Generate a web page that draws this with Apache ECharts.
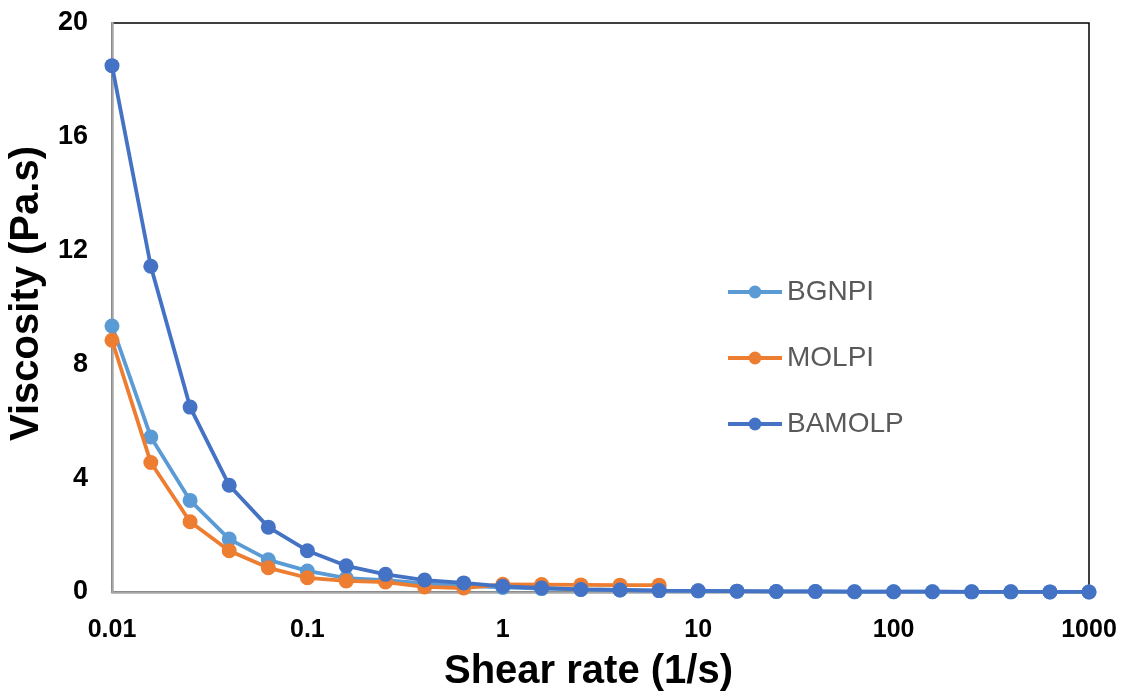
<!DOCTYPE html>
<html>
<head>
<meta charset="utf-8">
<script src="https://cdn.jsdelivr.net/npm/echarts@6/dist/echarts.min.js"></script>
<style>html,body{margin:0;padding:0;background:#fff;}#c{width:1132px;height:697px;}</style>
</head>
<body>
<div id="c"></div>
<script>
const shearRate = [0.01, 0.0158, 0.0251, 0.0398, 0.0631, 0.1, 0.158, 0.251, 0.398, 0.631, 1, 1.58, 2.51, 3.98, 6.31, 10, 15.8, 25.1, 39.8, 63.1, 100, 158, 251, 398, 631, 1000];
const seriesNames = ['BGNPI', 'MOLPI', 'BAMOLP'];
const bgnpi = [9.35, 5.45, 3.22, 1.86, 1.13, 0.74, 0.49, 0.42, 0.3, 0.22, 0.16, 0.12, 0.09, 0.07, 0.05, 0.04, 0.03, 0.02, 0.02, 0.01, 0.01, 0.01, 0.005, 0.005, 0.003, 0.002];
const molpi = [8.85, 4.55, 2.47, 1.45, 0.85, 0.5, 0.39, 0.35, 0.18, 0.14, 0.27, 0.26, 0.25, 0.24, 0.24];
const bamolp = [18.5, 11.45, 6.5, 3.75, 2.28, 1.45, 0.92, 0.62, 0.42, 0.32, 0.2, 0.14, 0.09, 0.07, 0.05, 0.04, 0.03, 0.02, 0.02, 0.01, 0.01, 0.01, 0.005, 0.005, 0.003, 0.002];
const yTicks = [0, 4, 8, 12, 16, 20];
const colors = ['#5B9BD5', '#ED7D31', '#4472C4'];

function pairs(vals) { return vals.map((v, i) => [shearRate[i], v]); }
const allVals = [bgnpi, molpi, bamolp];
const FONT = 'Liberation Sans, Arial, sans-serif';

const chart = echarts.init(document.getElementById('c'));
chart.setOption({
  animation: false,
  backgroundColor: '#fff',
  grid: { left: 112, right: 43, top: 23, bottom: 105, containLabel: false, outerBoundsMode: 'none',
    show: true, borderColor: '#000', borderWidth: 1.5, backgroundColor: 'transparent' },
  legend: {
    orient: 'vertical', left: 726, top: 278, padding: 0, itemGap: 38, itemWidth: 54, itemHeight: 16,
    lineStyle: { width: 4 },
    textStyle: { fontFamily: FONT, fontSize: 28, color: '#595959', padding: [0, 0, 0, 0] },
    data: seriesNames
  },
  xAxis: {
    type: 'log', logBase: 10, min: 0.01, max: 1000,
    name: 'Shear rate (1/s)', nameLocation: 'middle', nameGap: 60,
    nameTextStyle: { fontFamily: FONT, fontWeight: 'bold', fontSize: 40, color: '#000', padding: [0, 24, 0, 0] },
    axisLine: { show: true, lineStyle: { color: '#A6A6A6', width: 2.5 } },
    axisTick: { show: false }, minorTick: { show: false }, splitLine: { show: false },
    axisLabel: { margin: 26, fontFamily: FONT, fontWeight: 'bold', fontSize: 25, color: '#000',
      formatter: v => String(Number(v.toPrecision(3))) }
  },
  yAxis: {
    type: 'value', min: 0, max: 20, interval: 4,
    name: 'Viscosity (Pa.s)', nameLocation: 'middle', nameGap: 62,
    nameTextStyle: { fontFamily: FONT, fontWeight: 'bold', fontSize: 40, color: '#000', padding: [0, 0, 0, 28] },
    axisLine: { show: true, lineStyle: { color: '#A6A6A6', width: 2.5 } },
    axisTick: { show: false }, splitLine: { show: false },
    axisLabel: { margin: 24, fontFamily: FONT, fontWeight: 'bold', fontSize: 27, color: '#000',
      formatter: v => yTicks.includes(v) ? String(v) : '' }
  },
  series: seriesNames.map((n, i) => ({
    name: n, type: 'line', data: pairs(allVals[i]),
    symbol: 'circle', symbolSize: 15, showSymbol: true,
    itemStyle: { color: colors[i] },
    lineStyle: { color: colors[i], width: 3.8 },
    z: 2 + i
  }))
});
</script>
</body>
</html>
